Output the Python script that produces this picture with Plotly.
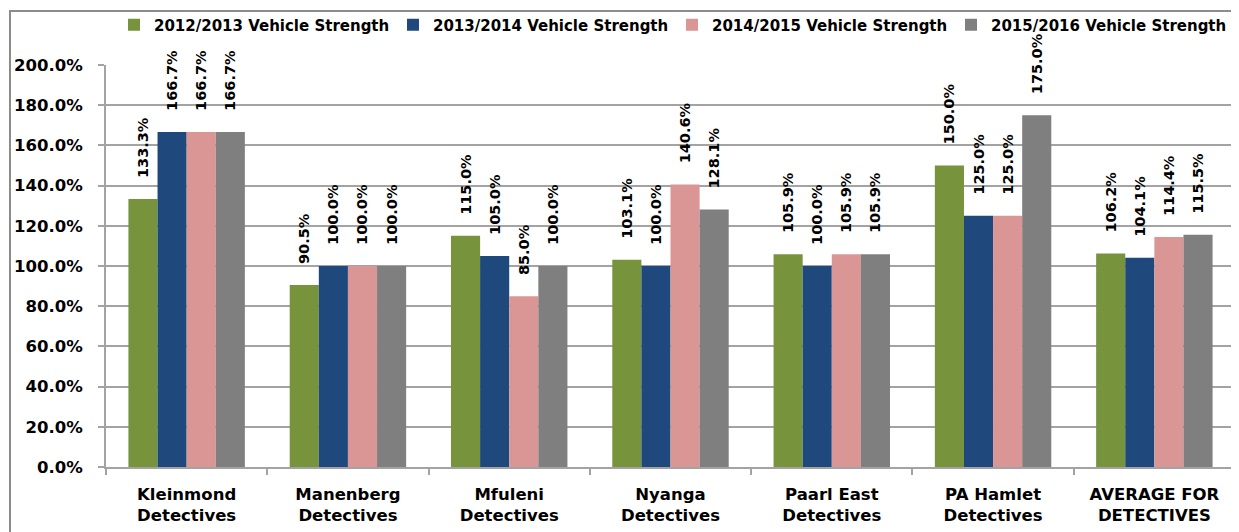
import plotly.graph_objects as go

categories = ["Kleinmond<br>Detectives", "Manenberg<br>Detectives", "Mfuleni<br>Detectives",
              "Nyanga<br>Detectives", "Paarl East<br>Detectives", "PA Hamlet<br>Detectives",
              "AVERAGE FOR<br>DETECTIVES"]
series_names = ["2012/2013 Vehicle Strength", "2013/2014 Vehicle Strength",
                "2014/2015 Vehicle Strength", "2015/2016 Vehicle Strength"]
v2012 = [133.3, 90.5, 115.0, 103.1, 105.9, 150.0, 106.2]
v2013 = [166.7, 100.0, 105.0, 100.0, 100.0, 125.0, 104.1]
v2014 = [166.7, 100.0, 85.0, 140.6, 105.9, 125.0, 114.4]
v2015 = [166.7, 100.0, 100.0, 128.1, 105.9, 175.0, 115.5]
colors = ["#77933C", "#1F497D", "#D99694", "#7F7F7F"]
tickvals = [0, 20, 40, 60, 80, 100, 120, 140, 160, 180, 200]

FONT = "DejaVu Sans"
GRID = "#a3a3a3"

fig = go.Figure()
for name, vals, col in zip(series_names, [v2012, v2013, v2014, v2015], colors):
    fig.add_trace(go.Bar(
        x=categories, y=vals, name=name, marker=dict(color=col, line=dict(width=0)),
        text=["\u00a0\u00a0\u00a0\u2009" + f"{v:.1f}%" for v in vals],
        textposition="outside", textangle=-90, cliponaxis=False, constraintext="none",
        textfont=dict(family=FONT, size=14.5, color="black", weight="bold"),
    ))

# page body has an 8px margin, so the figure is drawn 8px in from the window edge
OFF = 8
W, H = 1239 - OFF, 532 - OFF
L, R, T = 106 - OFF, 4, 65 - OFF
ph = 402
B = H - T - ph
pw = W - L - R

fig.update_layout(
    width=W, height=H, barmode="group", bargap=0.278, bargroupgap=0,
    margin=dict(l=L, r=R, t=T, b=B, pad=0),
    paper_bgcolor="white", plot_bgcolor="white",
    font=dict(family=FONT, color="black"),
    legend=dict(orientation="h", xref="container", yref="container",
                x=(114 - OFF) / W, xanchor="left",
                y=1 - (25 - OFF) / H, yanchor="middle",
                bgcolor="rgba(0,0,0,0)",
                entrywidth=234, entrywidthmode="pixels",
                font=dict(family=FONT, size=15, color="black", weight="bold"),
                itemwidth=30, traceorder="normal"),
    xaxis=dict(showgrid=False, showline=True, linecolor=GRID, linewidth=2, automargin=False,
               ticks="outside", tickson="boundaries", ticklen=6, tickcolor=GRID, tickwidth=2,
               ticklabelstandoff=11,
               tickfont=dict(family=FONT, size=16.5, color="black", weight="bold")),
    yaxis=dict(range=[0, 200], tickvals=tickvals, ticktext=[f"{t:.1f}%" for t in tickvals],
               showgrid=True, gridcolor=GRID, gridwidth=2, zeroline=False, automargin=False,
               showline=True, linecolor=GRID, linewidth=2,
               ticks="outside", ticklen=6, tickcolor=GRID, tickwidth=2, ticklabelstandoff=12,
               tickfont=dict(family=FONT, size=16.5, color="black", weight="bold")),
    shapes=[dict(type="rect", xref="paper", yref="paper",
                 x0=(10 - 106) / pw, x1=1.0, y0=-0.3, y1=1 + (65 - 11) / ph,
                 line=dict(color="#8c8c8c", width=2), fillcolor="rgba(0,0,0,0)", layer="below")],
)

fig.write_html("out.html")
